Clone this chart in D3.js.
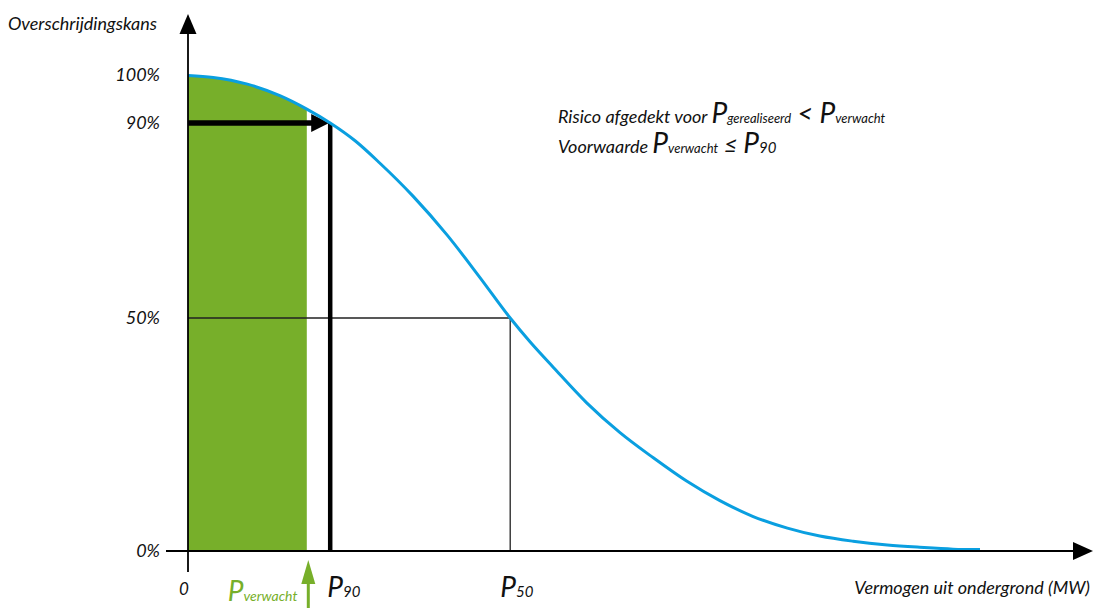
<!DOCTYPE html>
<html>
<head>
<meta charset="utf-8">
<script src="https://cdn.jsdelivr.net/npm/d3@7"></script>
<style>
  body { margin: 0; background: #fff; }
  text { font-family: Lato, "Open Sans", sans-serif; font-style: italic; fill: #111; }
</style>
</head>
<body>
<svg id="chart" width="1096" height="608"></svg>
<script>
// overschrijdingskans-curve (MW in willekeurige eenheden, kans in %)
const curveMW  = [0, 2.8, 6.6, 10.2, 13.2, 15.8, 18.6, 21.3, 25, 28.8, 32.4, 35.8, 38, 40.6, 44.3, 48, 51.7, 55.4, 59.1, 62.8, 66.6, 70.2, 73.9, 77.7, 81.3, 85, 88];
const curvePct = [99.9, 99.5, 98.1, 95.7, 92.9, 90, 86.3, 81.8, 75.0, 67.0, 58.4, 50, 44.9, 39.4, 31.8, 25.4, 20.0, 15.0, 10.8, 7.4, 4.9, 3.2, 2.1, 1.3, 0.8, 0.4, 0.3];
const yTicks = [0, 50, 90, 100];
const p90 = 15.8, p50 = 35.8, pVerwacht = 13.2;

const curve = curveMW.map((m, i) => ({ mw: m, pct: curvePct[i] }));

const blue = "#0a9fe0", green = "#77af2a";
const svg = d3.select("#chart");

// schalen (de y-as van de schets is niet helemaal lineair, dus per stuk)
const x = d3.scaleLinear().domain([0, 100]).range([188, 1088]);
const y = d3.scaleLinear().domain([0, 50, 90, 100]).range([551, 318, 123, 75]);

const line = d3.line().x(d => x(d.mw)).y(d => y(d.pct)).curve(d3.curveMonotoneX);
const area = d3.area().x(d => x(d.mw)).y0(y(0)).y1(d => y(d.pct)).curve(d3.curveMonotoneX);

// groen vlak tot P verwacht
svg.append("clipPath").attr("id", "clipGreen")
  .append("rect")
  .attr("x", x(0)).attr("y", 0)
  .attr("width", x(pVerwacht) - x(0)).attr("height", y(0));

svg.append("path")
  .datum(curve)
  .attr("d", area)
  .attr("fill", green)
  .attr("clip-path", "url(#clipGreen)");

// dunne lijnen naar P50
svg.append("path")
  .attr("d", `M${x(0)},${y(50)}H${x(p50)}V${y(0)}`)
  .attr("fill", "none")
  .attr("stroke", "#222")
  .attr("stroke-width", 1.3);

// dikke lijnen naar P90
svg.append("line")
  .attr("x1", x(p90)).attr("x2", x(p90))
  .attr("y1", y(0)).attr("y2", y(90))
  .attr("stroke", "#000").attr("stroke-width", 4.5);

svg.append("line")
  .attr("x1", x(0)).attr("x2", x(p90) - 16)
  .attr("y1", y(90)).attr("y2", y(90))
  .attr("stroke", "#000").attr("stroke-width", 5.5);

svg.append("path")
  .attr("d", `M${x(p90) - 1},${y(90)}L${x(p90) - 19},${y(90) - 9}L${x(p90) - 19},${y(90) + 9}Z`)
  .attr("fill", "#000");

// de curve zelf
svg.append("path")
  .datum(curve)
  .attr("d", line)
  .attr("fill", "none")
  .attr("stroke", blue)
  .attr("stroke-width", 3);

// assen met pijlen
svg.append("line")
  .attr("x1", x(0)).attr("x2", x(0))
  .attr("y1", 572).attr("y2", 32)
  .attr("stroke", "#000").attr("stroke-width", 1.8);
svg.append("path")
  .attr("d", `M${x(0)},14L${x(0) - 8.5},34L${x(0) + 8.5},34Z`)
  .attr("fill", "#000");

svg.append("line")
  .attr("x1", 166).attr("x2", 1075)
  .attr("y1", y(0)).attr("y2", y(0))
  .attr("stroke", "#000").attr("stroke-width", 1.8);
svg.append("path")
  .attr("d", `M1093,${y(0)}L1073,${y(0) - 9}L1073,${y(0) + 9}Z`)
  .attr("fill", "#000");

// y-labels
const yAxis = d3.axisLeft(y).tickValues(yTicks).tickSize(0).tickPadding(28).tickFormat(d => d + "%");
const yG = svg.append("g").attr("transform", `translate(${x(0)},0)`).call(yAxis);
yG.select(".domain").remove();
yG.selectAll("text")
  .attr("font-size", 18)
  .attr("font-family", "Lato, 'Open Sans', sans-serif")
  .attr("font-style", "italic")
  .attr("fill", "#111");

// astitels
svg.append("text").attr("x", 8).attr("y", 30).attr("font-size", 18).text("Overschrijdingskans");
svg.append("text").attr("x", 1090).attr("y", 594).attr("text-anchor", "end").attr("font-size", 18)
  .text("Vermogen uit ondergrond (MW)");

// x-labels
svg.append("text").attr("x", x(0) - 4).attr("y", 595).attr("text-anchor", "middle").attr("font-size", 17).text("0");

function pLabel(xPos, yPos, sub, bigSize, subSize, color) {
  const t = svg.append("text").attr("x", xPos).attr("y", yPos);
  if (color) t.style("fill", color);
  t.append("tspan").attr("font-size", bigSize).text("P");
  t.append("tspan").attr("font-size", subSize).text(sub);
  return t;
}
pLabel(x(p90) - 3, 597, "90", 28, 15);
pLabel(x(p50) - 10, 597, "50", 28, 15);
pLabel(x(pVerwacht) - 79, 601, "verwacht", 28, 14, green);

// groene pijl bij P verwacht
const gx = x(pVerwacht) + 1.5;
svg.append("line")
  .attr("x1", gx).attr("x2", gx).attr("y1", 608).attr("y2", 580)
  .attr("stroke", green).attr("stroke-width", 3);
svg.append("path")
  .attr("d", `M${gx},560L${gx - 7},584L${gx + 7},584Z`)
  .attr("fill", green);

// toelichting
const t1 = svg.append("text").attr("x", 558).attr("y", 123).attr("font-size", 18);
t1.append("tspan").text("Risico afgedekt voor ");
t1.append("tspan").attr("font-size", 28).text("P");
t1.append("tspan").attr("font-size", 13).text("gerealiseerd");
t1.append("tspan").attr("font-size", 27).text(" < ");
t1.append("tspan").attr("font-size", 28).text("P");
t1.append("tspan").attr("font-size", 13).text("verwacht");

const t2 = svg.append("text").attr("x", 558).attr("y", 153).attr("font-size", 18);
t2.append("tspan").text("Voorwaarde ");
t2.append("tspan").attr("font-size", 28).text("P");
t2.append("tspan").attr("font-size", 13).text("verwacht");
t2.append("tspan").attr("font-size", 24).text(" ≤ ");
t2.append("tspan").attr("font-size", 28).text("P");
t2.append("tspan").attr("font-size", 15).text("90");
</script>
</body>
</html>
